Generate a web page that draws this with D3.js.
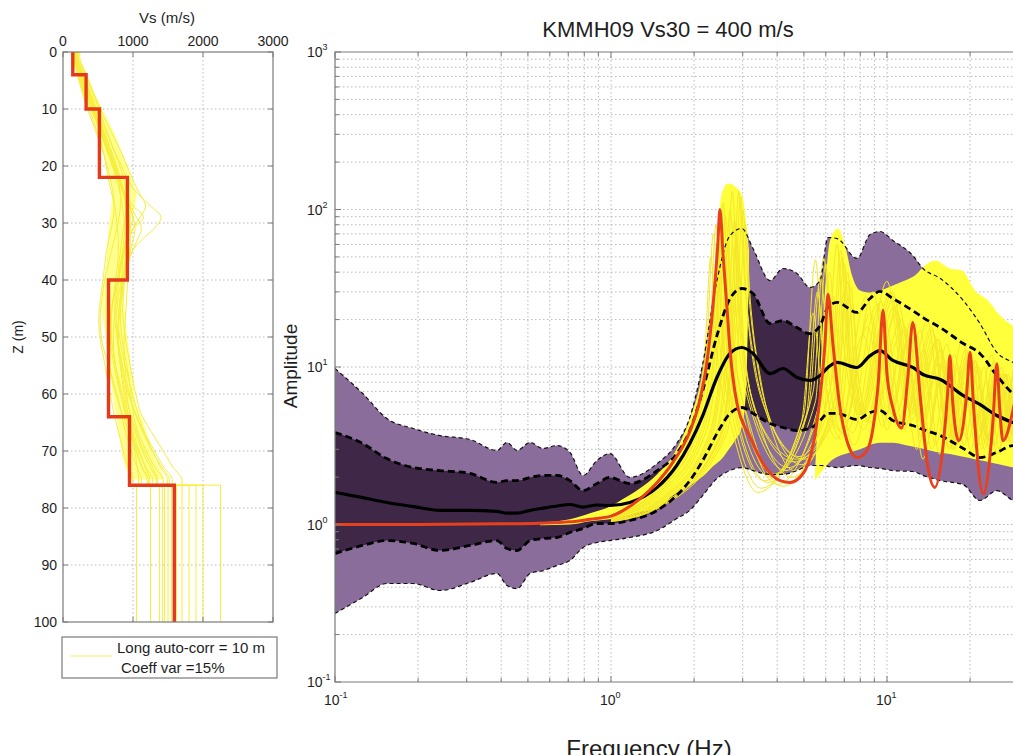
<!DOCTYPE html>
<html><head><meta charset="utf-8">
<script src="https://cdn.jsdelivr.net/npm/d3@7"></script>
<style>
body{margin:0;background:#fff}
svg{display:block}
text{font-family:"Liberation Sans",Arial,Helvetica,sans-serif;fill:#1e1e1e}
</style>
</head><body>
<svg id="c" width="1013" height="755"></svg>
<script>
// ---------------- LEFT PANEL DATA (Vs profile) ----------------
const VS_TICKS = [0, 1000, 2000, 3000];
const Z_TICKS = [0, 10, 20, 30, 40, 50, 60, 70, 80, 90, 100];
const LAYER_TOP = [0, 4, 10, 22, 40, 64, 76];
const LAYER_VS  = [140, 330, 520, 920, 650, 950, 1590];
const Z_BOTTOM = 100;
const HALFSPACE_TOP = 76;
// randomised profiles: Vs every 2 m from 0 to 74 m, then half-space value
const PROFILES = [
 [180,230,280,340,410,470,540,610,680,740, 790,840,880,900,890,860,840,820,800,790, 770,750,740,740,760,780,800,820,840,860, 890,920,960,1010,1060,1120,1180,1240],
 [160,200,240,290,340,400,460,520,570,600, 630,660,700,730,720,690,650,620,600,580, 560,540,520,510,520,540,570,600,630,660, 690,720,760,800,840,880,940,1000],
 [220,290,360,430,500,570,650,730,810,880, 950,1020,1100,1180,1100,1000,950,920,900,880, 870,860,850,860,880,900,930,960,990,1020, 1060,1100,1180,1280,1380,1480,1580,1700],
 [170,220,260,320,380,440,500,560,620,680, 730,780,820,850,870,880,870,850,820,790, 760,730,700,690,690,700,720,750,790,830, 870,910,950,990,1030,1080,1130,1200],
 [200,260,320,380,440,510,580,650,720,800, 870,950,1080,1250,1400,1300,1120,980,900,860, 820,790,770,760,770,790,820,850,880,900, 920,950,1000,1060,1120,1200,1280,1350],
 [150,190,230,270,320,380,440,500,560,610, 650,690,720,740,760,780,790,790,780,760, 740,720,700,680,670,680,700,730,760,800, 840,880,920,980,1040,1110,1190,1280],
 [240,300,360,420,480,540,600,660,720,780, 840,880,910,930,950,960,960,950,940,930, 920,910,900,890,880,870,870,880,900,930, 970,1020,1080,1150,1230,1320,1420,1520],
 [170,210,250,300,360,430,510,590,660,720, 770,800,820,820,800,770,730,690,650,610, 580,560,540,530,540,560,600,650,700,750, 790,830,860,900,950,1000,1060,1120],
 [190,250,310,370,420,470,520,570,620,680, 740,810,880,950,1000,1030,1000,960,920,880, 850,830,820,820,830,850,880,910,940,960, 980,1000,1030,1080,1150,1230,1320,1430],
 [160,210,270,330,390,450,510,570,630,690, 750,810,860,900,930,950,920,880,840,800, 760,720,690,660,640,630,640,660,690,730, 780,830,890,950,1010,1070,1140,1220],
 [210,270,330,390,450,500,550,600,650,700, 760,820,900,1000,1150,1000,900,870,850,840, 830,820,800,790,780,790,810,840,870,910, 960,1020,1090,1170,1260,1350,1450,1560],
 [180,240,300,360,420,490,560,620,680,730, 780,830,870,900,920,930,920,900,880,860, 840,820,800,790,800,820,850,890,930,970, 1010,1060,1110,1170,1240,1320,1400,1490],
 [200,250,300,350,400,460,520,580,640,700, 760,820,880,940,1000,960,900,860,830,810, 790,770,750,730,720,720,730,750,780,810, 850,890,930,970,1010,1040,1060,1080],
 [170,230,290,350,410,470,530,590,650,710, 770,830,890,960,1050,1120,1060,990,930,890, 860,840,820,800,790,790,800,820,850,880, 910,950,990,1040,1100,1170,1250,1330]
];
const HALFSPACE = [1550,1450,1900,1600,1700,1380,2000,1250,1800,1500,2250,1620,1050,1420];
// dense core of the profile cloud (every 2 m, 0..74 m)
const VS_CORE_LO = [150,170,220,280,350,420,470,530,580,620, 650,680,700,690,670,650,640,630,620,600, 580,570,560,570,600,620,635,650,680,700, 720,750,780,800,830,850,900,950];
const VS_CORE_HI = [220,300,380,440,520,600,680,760,820,890, 950,1000,1050,1030,980,950,940,930,920,900, 880,875,880,890,910,930,950,970,990,1010, 1030,1080,1150,1200,1250,1300,1380,1450];
const LEGEND_LINES = ["Long auto-corr = 10 m", "Coeff var =15%"];

// ---------------- RIGHT PANEL DATA (amplification) ----------------
const TITLE = "KMMH09 Vs30 = 400 m/s";
const F_EXP = [-1, 0, 1];
const A_EXP = [-1, 0, 1, 2, 3];
const FREQ = [0.1,0.126,0.154,0.192,0.24,0.308,0.386,0.42,0.457,0.509, 0.567,0.637,0.71,0.792,0.89,0.99,1.17,1.47,1.73,1.93, 2.15,2.42,2.7,2.98,3.27,3.77,4.2,4.72,5.26,5.72, 6.11,6.59,7.79,8.68,9.43,10.5,12.4,13.5,15.6,18.9, 21.7,25.0,28.6,33.0];
const OUTER_UP = [9.78,6.79,4.71,4.07,3.67,3.47,2.95,3.32,2.95,3.32, 3.04,3.17,2.87,2.05,2.55,2.82,1.99,2.44,3.27,4.78, 10.5,35.4,68.4,75.7,56.5,35.4,42.2,39.2,32.0,35.4, 66.4,65.4,48.9,69.4,72.5,63.6,51.0,42.2,36.5,26.4, 18.9,12.4,10.7,9.5];
const INNER_UP = [3.84,3.27,2.62,2.30,2.20,2.11,1.85,1.90,1.90,1.99, 2.05,2.05,1.90,1.64,1.82,1.99,1.82,2.20,2.82,3.95, 7.09,15.8,27.2,31.5,29.3,18.9,19.7,17.8,16.3,18.3, 23.9,25.7,22.2,27.2,30.2,27.2,22.8,20.6,17.8,14.1, 12.2,8.83,6.79,6.13];
const MEDIAN = [1.60,1.48,1.38,1.30,1.23,1.23,1.21,1.18,1.18,1.23, 1.27,1.31,1.34,1.29,1.33,1.32,1.38,1.72,2.37,3.27, 4.92,8.58,12.2,13.3,12.2,9.09,9.78,8.58,8.21,8.83, 9.93,10.7,9.93,11.8,12.7,11.0,9.93,8.96,8.33,6.59, 5.78,4.92,4.44,4.07];
const INNER_LO = [0.654,0.736,0.791,0.758,0.684,0.736,0.791,0.704,0.684,0.791, 0.815,0.827,0.890,0.943,1.015,1.015,1.06,1.23,1.53,1.90, 2.55,3.78,5.07,5.53,5.07,4.38,4.13,3.95,4.07,4.57, 5.07,5.07,4.64,5.14,5.29,4.57,4.25,4.01,3.67,3.04, 2.66,2.87,3.17,2.95];
const OUTER_LO = [0.272,0.344,0.422,0.422,0.381,0.428,0.489,0.410,0.392,0.489, 0.510,0.549,0.591,0.714,0.769,0.791,0.827,0.916,1.09,1.23, 1.53,1.96,2.20,2.30,2.20,2.08,2.08,2.20,2.37,2.37, 2.34,2.30,2.37,2.30,2.27,2.20,2.17,2.05,1.90,1.79, 1.42,1.64,1.42,1.32];
// reference (red) transfer function [freq, amp]
const RED = [[0.1,1.0],[0.2,1.0],[0.4,1.01],[0.55,1.02],[0.71,1.04],[0.84,1.08],[1.0,1.13],[1.1,1.22],[1.27,1.45],[1.47,1.85],
 [1.68,2.5],[1.93,3.9],[2.1,6.2],[2.23,11],[2.34,24],[2.44,62],[2.48,100],[2.55,50],[2.63,24],[2.7,12.7],
 [2.86,5.9],[3.19,3.6],[3.55,2.45],[4.1,1.9],[4.45,1.85],[4.96,2.1],[5.4,3.2],[5.72,6.4],[5.96,14],[6.11,29],
 [6.37,14],[6.76,5.5],[7.16,3.4],[7.79,2.66],[8.46,2.95],[8.9,4.1],[9.3,8],[9.67,22.9],[10.0,9],[10.5,5.5],
 [11.3,4.1],[11.9,8.6],[12.4,19.2],[13.2,6.4],[14.0,2.44],[14.9,1.72],[16.0,3.27],[16.6,7],[16.9,11.8],[17.3,6],
 [18.2,3.4],[19.4,6.5],[20.0,12.4],[20.6,5.5],[22.3,1.57],[24.2,4.5],[25.0,10.5],[25.6,5.5],[26.3,3.4],[28.6,5.3],[31,12]];
// dense yellow envelopes [freq, low, high]
const YEL_A = [[0.553,0.99,1.03],[0.71,1.0,1.08],[0.839,1.05,1.18],[0.992,1.08,1.3],[1.105,1.12,1.45],[1.274,1.2,1.7],[1.468,1.26,2.08],[1.677,1.53,2.74],[1.933,1.77,4.71],[2.10,1.96,7.63],[2.228,2.14,13.7],[2.342,2.34,30.6],[2.442,2.48,79],[2.525,2.62,128],[2.654,2.95,146],[2.813,3.41,140],[2.984,4.25,123],[3.084,7.09,85],[3.162,47.5,54.9]];
const YEL_B = [[5.485,1.9,2.2],[5.717,2.1,8.21],[5.962,2.3,30.6],[6.216,2.5,63.6],[6.645,2.7,75.7],[7.045,2.8,59.1],[7.468,2.9,38.1],[7.984,3.0,30.6],[8.678,3.2,29.7],[9.433,3.3,30.6],[10.51,3.3,32.9],[11.62,3.2,35.4],[12.63,3.1,38.1],[13.73,3.0,44.1],[14.93,2.9,47.5],[16.92,2.8,42.2],[18.70,2.7,41.0],[20.84,2.6,30.6],[23.22,2.5,26.4],[25.67,2.4,21.2],[28.61,2.3,18.3],[32.96,2.2,17.1]];
// individual realisations (flat lists f,a,f,a,...)
const REAL = [
 [1.0,1.12, 1.5,1.65, 2.0,3.6, 2.28,15, 2.40,80, 2.52,16, 2.85,4.5, 3.6,1.9, 5.1,5, 5.6,30, 6.0,8, 6.8,3.5, 8.5,18, 10,4, 11.8,14, 13.5,2.6, 15.8,10, 17.5,3, 20,9, 22,3, 25,8, 27,3.5, 30,7, 33,3],
 [1.0,1.1, 1.5,1.55, 2.15,3.8, 2.42,18, 2.55,110, 2.68,20, 3.0,5, 3.9,2.1, 5.5,6, 6.0,45, 6.4,10, 7.2,4, 9.2,25, 10.8,5, 12.8,16, 14.5,3, 17,12, 19,3.2, 21.5,10, 23.5,3, 27,9, 29,3.5, 33,5],
 [1.0,1.08, 1.5,1.45, 2.25,3.6, 2.52,14, 2.65,60, 2.8,13, 3.2,4.2, 4.2,1.75, 5.9,5, 6.4,28, 6.8,8, 7.6,3.2, 9.8,20, 11.5,4, 13.6,13, 15.5,2.8, 18.2,10, 20,3, 23,8, 25,2.8, 28.5,7, 33,3],
 [1.0,1.07, 1.5,1.4, 2.3,3.5, 2.61,20, 2.75,130, 2.9,22, 3.3,5, 4.4,2.3, 6.2,7, 6.8,55, 7.2,12, 8.0,5, 10.3,30, 12,5.5, 14.5,18, 16.5,3.5, 19.3,13, 21.5,3.5, 24.5,11, 26.5,4, 30,10, 33,4],
 [1.0,1.06, 1.5,1.35, 2.4,3.6, 2.7,16, 2.85,70, 3.0,15, 3.45,4.5, 4.6,2.5, 6.6,6, 7.2,35, 7.6,10, 8.4,4.5, 10.9,22, 12.6,5, 15.2,15, 17.3,3, 20.5,11, 22.5,3, 25.8,9, 28,3.3, 32,8],
 [1.0,1.14, 1.5,1.75, 1.95,3.8, 2.19,13, 2.30,50, 2.42,12, 2.75,4, 3.4,1.6, 4.9,4.5, 5.4,22, 5.8,7, 6.6,3.5, 8.2,16, 9.6,4.2, 11.2,12, 12.8,3, 15,9, 16.8,3, 19,8, 21,3, 23.5,7, 25.5,3, 28,6, 31,3],
 [1.0,1.1, 1.5,1.5, 2.2,3.8, 2.47,18, 2.60,90, 2.74,18, 3.1,4.8, 4.0,1.8, 5.7,6, 6.2,40, 6.6,9, 7.5,3.8, 9.5,26, 11,4.6, 13.2,17, 15,3.2, 17.6,12, 19.6,3.4, 22.5,10, 24.5,3.2, 27.5,9, 30,3.5, 33,6],
 [1.0,1.05, 1.5,1.32, 2.45,3.5, 2.75,12, 2.90,45, 3.05,12, 3.5,4.3, 4.7,2.6, 6.9,6, 7.5,25, 7.9,8, 8.8,4.5, 11.4,17, 13.2,4.5, 15.8,12, 18,3.5, 21,10, 23.5,3.5, 27,9, 29.5,3.5, 33,6],
 [1.0,1.11, 1.5,1.6, 2.1,3.7, 2.38,15, 2.50,65, 2.63,14, 2.95,4.6, 3.8,2.0, 5.4,7, 5.9,50, 6.3,11, 7.0,4.2, 8.9,30, 10.4,5, 12.3,20, 14,3.8, 16.5,14, 18.4,3.8, 21,11, 23,3.6, 26,10, 28,3.8, 31,9, 33,5],
 [1.0,1.07, 1.5,1.42, 2.28,3.6, 2.57,19, 2.70,100, 2.85,20, 3.25,5, 4.3,2.2, 6.0,8, 6.6,60, 7.0,13, 7.9,5, 10,35, 11.8,5.5, 14,20, 16,4, 18.8,15, 20.8,4, 24,12, 26,4, 29.5,11, 33,5],
 [1.0,1.05, 1.5,1.3, 2.5,3.6, 2.8,20, 2.95,120, 3.1,25, 3.6,5.5, 4.8,2.7, 6.4,7, 7.0,45, 7.4,12, 8.2,5, 10.6,28, 12.3,5, 14.8,16, 16.8,3.6, 19.8,12, 22,3.8, 25.2,10, 27.5,4, 31,9],
 [1.0,1.12, 1.5,1.7, 2.05,3.7, 2.33,14, 2.45,55, 2.57,13, 2.9,4.4, 3.7,1.85, 5.2,5.5, 5.75,38, 6.15,9, 6.9,3.8, 8.7,22, 10.2,4.4, 12,15, 13.8,3.2, 16.2,11, 18,3.4, 20.5,9, 22.8,3.3, 26,8, 28,3.4, 31,7],
 [1.0,1.06, 1.5,1.37, 2.38,3.6, 2.66,18, 2.80,85, 2.95,18, 3.4,4.8, 4.5,2.0, 6.5,6.5, 7.0,30, 7.4,9, 8.2,4, 10.6,24, 12.3,4.6, 14.8,14, 16.8,3.1, 19.6,11, 21.8,3.2, 25,9, 27.3,3.4, 31,8],
 [1.0,1.13, 1.5,1.72, 1.98,3.7, 2.23,15, 2.35,70, 2.47,15, 2.8,4.3, 3.5,1.7, 5.0,5, 5.5,48, 5.9,10, 6.7,4, 8.4,28, 9.9,4.8, 11.6,18, 13.3,3.6, 15.6,13, 17.3,3.5, 19.8,11, 21.6,3.5, 24.2,10, 26.3,3.6, 29,9, 33,4],
 [1.0,1.05, 1.5,1.3, 2.55,3.6, 2.86,22, 3.0,100, 3.15,30, 3.4,10, 3.8,4.5, 4.9,2.4, 6.6,7, 7.2,40, 7.6,11, 8.5,4.6, 11,25, 12.8,5, 15.4,15, 17.5,3.4, 20.8,11, 23,3.5, 26.3,9, 28.6,3.6, 32,8],
 [1.0,1.04, 1.5,1.28, 2.6,3.6, 2.92,20, 3.06,80, 3.2,26, 3.5,8, 3.95,3.8, 5.0,2.6, 6.8,7, 7.4,32, 7.8,10, 8.7,4.4, 11.3,20, 13,4.8, 15.7,13, 17.8,3.2, 21,10, 23.3,3.4, 26.7,9, 29,3.5, 33,7],
 [1.0,1.05, 1.5,1.32, 2.48,3.6, 2.78,25, 2.9,130, 3.05,35, 3.3,11, 3.7,4.8, 4.6,2.2, 6.3,8, 6.9,50, 7.3,12, 8.1,5, 10.5,30, 12.2,5.2, 14.6,17, 16.6,3.5, 19.5,12, 21.7,3.6, 24.8,10, 27,3.8, 30.5,9]
];

// ---------------- DRAW ----------------
const svg = d3.select("#c");
const defs = svg.append("defs");
const C_GRID = "#b9b9b9", C_FRAME = "#7a7a7a";

// ===== LEFT PANEL =====
const xV = d3.scaleLinear().domain([0, 3000]).range([63, 273]);
const yZ = d3.scaleLinear().domain([0, Z_BOTTOM]).range([52, 622]);
defs.append("clipPath").attr("id", "clipL").append("rect")
  .attr("x", xV(0)).attr("y", yZ(0)).attr("width", xV(3000) - xV(0)).attr("height", yZ(Z_BOTTOM) - yZ(0));
const gL = svg.append("g");
gL.selectAll(".gv").data(VS_TICKS.slice(1, -1)).join("line")
  .attr("x1", d => xV(d)).attr("x2", d => xV(d)).attr("y1", yZ(0)).attr("y2", yZ(Z_BOTTOM))
  .attr("stroke", C_GRID).attr("stroke-dasharray", "1.5,2.5");
gL.selectAll(".gh").data(Z_TICKS.slice(1, -1)).join("line")
  .attr("y1", d => yZ(d)).attr("y2", d => yZ(d)).attr("x1", xV(0)).attr("x2", xV(3000))
  .attr("stroke", C_GRID).attr("stroke-dasharray", "1.5,2.5");
const gLc = gL.append("g").attr("clip-path", "url(#clipL)");
const depths = VS_CORE_LO.map((v, i) => i * 2);
gLc.append("path")
  .attr("d", d3.area().y((d, i) => yZ(depths[i] + 1)).x0(d => xV(d[0])).x1(d => xV(d[1])).curve(d3.curveMonotoneY)(VS_CORE_LO.map((v, i) => [v, VS_CORE_HI[i]])))
  .attr("fill", "#ffff6a").attr("opacity", 0.75);
const smoothProf = d3.line().x(d => xV(d[0])).y(d => yZ(d[1])).curve(d3.curveMonotoneY);
PROFILES.forEach((p, i) => {
  const pts = [[p[0], 0]].concat(p.map((v, k) => [v, depths[k] + 1]));
  pts.push([p[p.length - 1], HALFSPACE_TOP]);
  gLc.append("path").attr("d", smoothProf(pts)).attr("fill", "none")
    .attr("stroke", "#f6ee3c").attr("stroke-width", 1);
  gLc.append("path").attr("d", d3.line()([[xV(p[p.length - 1]), yZ(HALFSPACE_TOP)], [xV(HALFSPACE[i]), yZ(HALFSPACE_TOP)], [xV(HALFSPACE[i]), yZ(Z_BOTTOM)]]))
    .attr("fill", "none").attr("stroke", "#f6ee3c").attr("stroke-width", 1);
});
const profLine = d3.line().x(d => xV(d[0])).y(d => yZ(d[1])).curve(d3.curveStepBefore);
const redPts = LAYER_VS.map((v, i) => [v, LAYER_TOP[i]]);
redPts.push([LAYER_VS[LAYER_VS.length - 1], Z_BOTTOM]);
gLc.append("path").attr("d", profLine(redPts)).attr("fill", "none")
  .attr("stroke", "#e5391b").attr("stroke-width", 3.4);
gL.append("rect").attr("x", xV(0)).attr("y", yZ(0)).attr("width", xV(3000) - xV(0)).attr("height", yZ(Z_BOTTOM) - yZ(0))
  .attr("fill", "none").attr("stroke", C_FRAME).attr("stroke-width", 1.2);
VS_TICKS.forEach(t => {
  gL.append("line").attr("x1", xV(t)).attr("x2", xV(t)).attr("y1", yZ(0)).attr("y2", yZ(0) + 5).attr("stroke", C_FRAME);
  gL.append("line").attr("x1", xV(t)).attr("x2", xV(t)).attr("y1", yZ(Z_BOTTOM)).attr("y2", yZ(Z_BOTTOM) - 5).attr("stroke", C_FRAME);
  gL.append("text").attr("x", xV(t)).attr("y", 46).attr("text-anchor", "middle").attr("font-size", 14).text(t);
});
Z_TICKS.forEach(t => {
  gL.append("line").attr("y1", yZ(t)).attr("y2", yZ(t)).attr("x1", xV(0)).attr("x2", xV(0) + 5).attr("stroke", C_FRAME);
  gL.append("line").attr("y1", yZ(t)).attr("y2", yZ(t)).attr("x1", xV(3000)).attr("x2", xV(3000) - 5).attr("stroke", C_FRAME);
  gL.append("text").attr("x", 57).attr("y", yZ(t) + 5).attr("text-anchor", "end").attr("font-size", 14).text(t);
});
gL.append("text").attr("x", 167).attr("y", 23).attr("text-anchor", "middle").attr("font-size", 15).text("Vs (m/s)");
gL.append("text").attr("transform", `translate(23,${yZ(50)}) rotate(-90)`).attr("text-anchor", "middle").attr("font-size", 14).text("Z (m)");
const lg = gL.append("g");
lg.append("rect").attr("x", 62).attr("y", 637).attr("width", 215).attr("height", 41)
  .attr("fill", "#fff").attr("stroke", C_FRAME).attr("stroke-width", 1.2);
lg.append("line").attr("x1", 70).attr("x2", 112).attr("y1", 656).attr("y2", 656).attr("stroke", "#f3ef6a").attr("stroke-width", 1.2);
lg.append("text").attr("x", 117).attr("y", 653).attr("font-size", 15).text(LEGEND_LINES[0]);
lg.append("text").attr("x", 121).attr("y", 673).attr("font-size", 15).text(LEGEND_LINES[1]);

// ===== RIGHT PANEL =====
const xF = d3.scaleLog().domain([0.1, 100]).range([335, 1163]);
const yA = d3.scaleLog().domain([0.1, 1000]).range([682, 52]);
defs.append("clipPath").attr("id", "clipR").append("rect")
  .attr("x", xF(0.1)).attr("y", yA(1000)).attr("width", xF(100) - xF(0.1)).attr("height", yA(0.1) - yA(1000));
const gR = svg.append("g");
const fGrid = [], aGrid = [];
[0.1, 1, 10].forEach(d => d3.range(1, 10).forEach(k => fGrid.push(d * k)));
[0.1, 1, 10, 100].forEach(d => d3.range(1, 10).forEach(k => aGrid.push(d * k)));
gR.selectAll(".fg").data(fGrid.slice(1)).join("line")
  .attr("x1", d => xF(d)).attr("x2", d => xF(d)).attr("y1", yA(1000)).attr("y2", yA(0.1))
  .attr("stroke", C_GRID).attr("stroke-dasharray", "1.5,2.5");
gR.selectAll(".ag").data(aGrid.slice(1)).join("line")
  .attr("y1", d => yA(d)).attr("y2", d => yA(d)).attr("x1", xF(0.1)).attr("x2", xF(100))
  .attr("stroke", C_GRID).attr("stroke-dasharray", "1.5,2.5");

const gRc = gR.append("g").attr("clip-path", "url(#clipR)");
const curve = d3.curveMonotoneX;
const band = (lo, hi) => d3.area().x((d, i) => xF(FREQ[i])).y0((d, i) => yA(lo[i])).y1((d, i) => yA(hi[i])).curve(curve)(FREQ);
const ln = arr => d3.line().x((d, i) => xF(FREQ[i])).y((d, i) => yA(arr[i])).curve(curve)(FREQ);
gRc.append("path").attr("d", band(OUTER_LO, OUTER_UP)).attr("fill", "#8b6d9c");
gRc.append("path").attr("d", band(INNER_LO, INNER_UP)).attr("fill", "#3f2748");
const yelArea = d3.area().x(d => xF(d[0])).y0(d => yA(d[1])).y1(d => yA(d[2])).curve(curve);
gRc.append("path").attr("d", yelArea(YEL_A)).attr("fill", "#ffff3c");
gRc.append("path").attr("d", yelArea(YEL_B)).attr("fill", "#ffff3c");
const pairLine = d3.line().x(d => xF(d[0])).y(d => yA(d[1])).curve(curve);
REAL.forEach(r => {
  const pts = d3.range(0, r.length, 2).map(i => [r[i], r[i + 1]]);
  gRc.append("path").attr("d", pairLine(pts)).attr("fill", "none")
    .attr("stroke", "#f4e72a").attr("stroke-width", 1);
});
[OUTER_UP, OUTER_LO].forEach(a => gRc.append("path").attr("d", ln(a)).attr("fill", "none")
  .attr("stroke", "#111").attr("stroke-width", 1.2).attr("stroke-dasharray", "4,3"));
[INNER_UP, INNER_LO].forEach(a => gRc.append("path").attr("d", ln(a)).attr("fill", "none")
  .attr("stroke", "#000").attr("stroke-width", 2.8).attr("stroke-dasharray", "7,4"));
gRc.append("path").attr("d", ln(MEDIAN)).attr("fill", "none").attr("stroke", "#000").attr("stroke-width", 3.2);
gRc.append("path").attr("d", pairLine(RED)).attr("fill", "none").attr("stroke", "#e8401d").attr("stroke-width", 3);

const X0 = xF(0.1), X1 = xF(100), Y0 = yA(0.1), Y1 = yA(1000);
gR.append("path").attr("d", `M${X1},${Y1}H${X0}V${Y0}H${X1}`).attr("fill", "none").attr("stroke", C_FRAME).attr("stroke-width", 1.2);
fGrid.concat([100]).forEach(v => {
  const major = Math.abs(Math.log10(v) - Math.round(Math.log10(v))) < 1e-9;
  const L = major ? 6 : 4;
  gR.append("line").attr("x1", xF(v)).attr("x2", xF(v)).attr("y1", Y0).attr("y2", Y0 - L).attr("stroke", C_FRAME);
  gR.append("line").attr("x1", xF(v)).attr("x2", xF(v)).attr("y1", Y1).attr("y2", Y1 + L).attr("stroke", C_FRAME);
});
aGrid.concat([1000]).forEach(v => {
  const major = Math.abs(Math.log10(v) - Math.round(Math.log10(v))) < 1e-9;
  const L = major ? 6 : 4;
  gR.append("line").attr("y1", yA(v)).attr("y2", yA(v)).attr("x1", X0).attr("x2", X0 + L).attr("stroke", C_FRAME);
});
const sup = (x, y, e) => {
  const t = gR.append("text").attr("x", x).attr("y", y).attr("font-size", 14);
  t.append("tspan").text("10");
  t.append("tspan").attr("dy", -7).attr("font-size", 9).text(e);
};
A_EXP.forEach(e => sup(307, yA(Math.pow(10, e)) + 5, e));
F_EXP.forEach(e => sup(xF(Math.pow(10, e)) - 11, 705, e));
gR.append("text").attr("x", 668).attr("y", 37).attr("text-anchor", "middle").attr("font-size", 22).text(TITLE);
gR.append("text").attr("transform", `translate(297,366) rotate(-90)`).attr("text-anchor", "middle").attr("font-size", 19).text("Amplitude");
gR.append("text").attr("x", 649).attr("y", 757).attr("text-anchor", "middle").attr("font-size", 24).text("Frequency (Hz)");
</script>
</body></html>
